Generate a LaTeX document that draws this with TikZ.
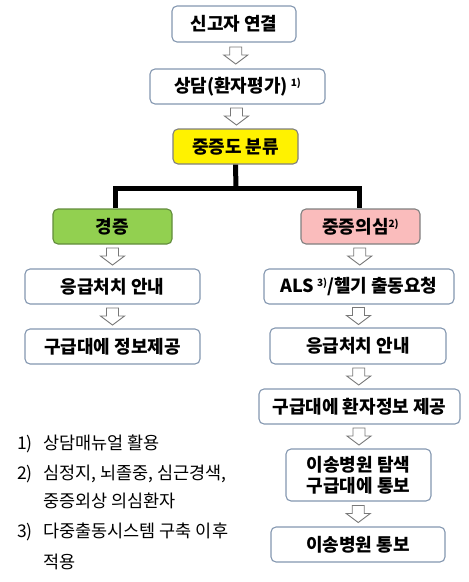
\documentclass[tikz,border=0pt]{standalone}
\usepackage{fontspec}
\setmainfont{Noto Sans CJK KR}
\usetikzlibrary{calc}

\definecolor{boxline}{RGB}{132,151,176}
\definecolor{mildfill}{RGB}{146,208,80}
\definecolor{mildline}{RGB}{98,140,60}
\definecolor{severefill}{RGB}{250,188,188}
\definecolor{arrowgray}{RGB}{120,120,120}

\newcommand{\notemark}[1]{\raisebox{0.6ex}{\fontsize{10}{10}\selectfont #1}}
\newcommand{\flowarrow}[2]{%
  \path ($(#1.south)!0.5!(#2.north)$) coordinate (m);
  \draw[blockarrow] (m) ++(-6,-8.5) -- ++(12,0) -- ++(0,8) -- ++(6,0)
    -- ++(-12,9) -- ++(-12,-9) -- ++(6,0) -- cycle;}

\tikzset{
  stepbox/.style={draw=boxline, line width=1.1pt, rounded corners=5pt, fill=white,
    minimum height=35pt, inner sep=0pt, font=\fontsize{18}{20}\selectfont\bfseries},
  blockarrow/.style={draw=arrowgray, line width=0.9pt, fill=white, line join=miter},
  bus/.style={line width=5pt, black},
  notetext/.style={anchor=base west, inner sep=0pt, font=\fontsize{17.5}{20}\selectfont}
}

\begin{document}
\begin{tikzpicture}[x=1pt,y=-1pt]
  \useasboundingbox (0,0) rectangle (469,582);

  % top chain
  \node[stepbox, minimum width=124pt, minimum height=36pt] (conn) at (234,24) {신고자 연결};
  \node[stepbox, minimum width=175pt] (consult) at (237.5,86.5) {상담(환자평가)\,\notemark{1)}};
  \node[stepbox, minimum width=125pt, fill=yellow, draw=gray] (triage) at (235.5,146.5) {중증도 분류};

  % two branches
  \node[stepbox, minimum width=119pt, fill=mildfill, draw=mildline] (mild) at (112.5,226.5) {경증};
  \node[stepbox, minimum width=119pt, fill=severefill, draw=gray] (severe) at (360.5,226.5) {중증의심\notemark{2)}};

  \coordinate (split) at (236,188);
  \coordinate (lbend) at (115,188);
  \coordinate (rbend) at (359,188);
  \draw[bus] (triage.south) -- (split);
  \draw[bus] (lbend |- mild.north) -- (lbend) -- (rbend) -- (rbend |- severe.north);

  % left side
  \node[stepbox, minimum width=175pt] (mfirst) at (112.5,286.5) {응급처치 안내};
  \node[stepbox, minimum width=175pt] (minfo) at (112.5,346.5) {구급대에 정보제공};

  % right side
  \node[stepbox, minimum width=190pt] (als) at (359,286.5) {ALS\,\notemark{3)}/헬기 출동요청};
  \node[stepbox, minimum width=176pt, minimum height=36pt] (sfirst) at (358,346) {응급처치 안내};
  \node[stepbox, minimum width=201pt] (sinfo) at (359.5,406.5) {구급대에 환자정보 제공};
  \node[stepbox, minimum width=145pt, minimum height=52pt, align=center,
    font=\fontsize{18}{21}\selectfont\bfseries] (search) at (358.5,475) {이송병원 탐색\\구급대에 통보};
  \node[stepbox, minimum width=174pt] (notify) at (358,544.5) {이송병원 통보};

  \flowarrow{conn}{consult}
  \flowarrow{consult}{triage}
  \flowarrow{mild}{mfirst}
  \flowarrow{mfirst}{minfo}
  \flowarrow{severe}{als}
  \flowarrow{als}{sfirst}
  \flowarrow{sfirst}{sinfo}
  \flowarrow{sinfo}{search}
  \flowarrow{search}{notify}

  % notes
  \node[notetext] (n1) at (17,449) {1)};
  \node[notetext] (t1) at (43,449) {상담매뉴얼 활용};
  \node[notetext] (n2) at (17,479) {2)};
  \node[notetext] (t2) at (43,479) {심정지, 뇌졸중, 심근경색,};
  \node[notetext] (t2b) at (43,507) {중증외상 의심환자};
  \node[notetext] (n3) at (17,537) {3)};
  \node[notetext] (t3) at (43,537) {다중출동시스템 구축 이후};
  \node[notetext] (t3b) at (43,568) {적용};
\end{tikzpicture}
\end{document}
